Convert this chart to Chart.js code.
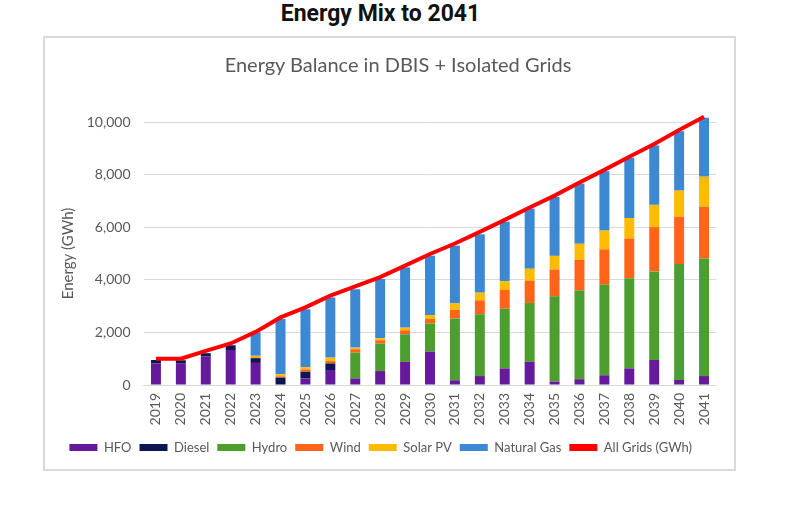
<!DOCTYPE html>
<html>
<head>
<meta charset="utf-8">
<script src="https://cdn.jsdelivr.net/npm/chart.js@4.4.1/dist/chart.umd.min.js"></script>
<style>
  html, body { margin: 0; padding: 0; background: #ffffff; }
  #pageTitle { position: absolute; left: 0; top: 0; width: 761px; height: 24px; line-height: 24px;
    text-align: center; font: 700 23px Roboto, "Liberation Sans", sans-serif; color: #111; }
  #frame { position: absolute; left: 43px; top: 36px; width: 693px; height: 435px;
    box-sizing: border-box; border: 2px solid #d9d9d9; }
  #c { position: absolute; left: 0; top: 0; }
  #chartTitle { position: absolute; left: 0; top: 52px; width: 796px; height: 24px; line-height: 24px;
    text-align: center; font: 400 20px Lato, "Open Sans", sans-serif; color: #595959; }
</style>
</head>
<body>
<div id="pageTitle">Energy Mix to 2041</div>
<div id="frame"><canvas id="c" width="689" height="431"></canvas></div>
<div id="chartTitle">Energy Balance in DBIS + Isolated Grids</div>
<script>
const years = ["2019","2020","2021","2022","2023","2024","2025","2026","2027","2028","2029","2030","2031","2032","2033","2034","2035","2036","2037","2038","2039","2040","2041"];
const hfo        = [820, 810, 1080, 1330, 840,   0,  250,  570,  250,  530,  880, 1270,  180,  340,  630,  880,  130,  220,  370,  630,  950,  190,  340];
const diesel     = [130, 130,  130,  180, 180, 280,  250,  250,    0,    0,    0,    0,    0,    0,    0,    0,    0,    0,    0,    0,    0,    0,    0];
const hydro      = [  0,   0,    0,    0,   0,   0,    0,    0,  980, 1040, 1050, 1070, 2350, 2350, 2270, 2240, 3240, 3370, 3440, 3430, 3370, 4410, 4470];
const wind       = [  0,   0,    0,    0,  30,  50,   90,   90,  130,  130,  150,  170,  330,  530,  710,  850, 1020, 1170, 1350, 1510, 1680, 1800, 1970];
const solarPV    = [  0,   0,    0,    0,  60,  80,   90,  130,   60,   80,  100,  150,  240,  290,  340,  450,  520,  610,  710,  780,  850,  990, 1140];
const naturalGas = [  0,   0,    0,    0, 890,2100, 2200, 2290, 2220, 2250, 2290, 2260, 2200, 2220, 2260, 2290, 2240, 2290, 2260, 2290, 2260, 2260, 2240];
const allGrids   = [1000, 1000, 1300, 1580, 2020, 2570, 2950, 3400, 3750, 4100, 4540, 4980, 5380, 5820, 6280, 6750, 7200, 7700, 8180, 8680, 9160, 9700, 10200];
const yTicks = [0, 2000, 4000, 6000, 8000, 10000];

const FONT = 'Lato, "Open Sans", sans-serif';
const GREY = '#595959';

function barSet(label, data, color) {
  return { type: 'bar', label, data, backgroundColor: color, borderWidth: 0,
           barPercentage: 0.4, categoryPercentage: 1.0, order: 1, clip: false };
}

new Chart(document.getElementById('c'), {
  data: {
    labels: years,
    datasets: [
      barSet('HFO', hfo, '#651a9b'),
      barSet('Diesel', diesel, '#0c1650'),
      barSet('Hydro', hydro, '#4c9e2e'),
      barSet('Wind', wind, '#ff6418'),
      barSet('Solar PV', solarPV, '#ffbb00'),
      barSet('Natural Gas', naturalGas, '#3c88d2'),
      { type: 'line', label: 'All Grids (GWh)', data: allGrids, borderColor: '#ff0000',
        backgroundColor: '#ff0000', borderWidth: 4, pointRadius: 0, tension: 0,
        clip: false, order: 0 }
    ]
  },
  options: {
    responsive: false,
    devicePixelRatio: 1,
    animation: false,
    layout: { padding: { left: 0, right: 17.5, top: 84, bottom: 5 } },
    plugins: {
      title: { display: false },
      legend: { position: 'bottom',
        labels: { color: GREY, font: { family: FONT, size: 13 }, boxWidth: 28, boxHeight: 7, padding: 8,
                  sort: (a, b) => a.datasetIndex - b.datasetIndex,
                  generateLabels: (chart) => {
                    const items = Chart.defaults.plugins.legend.labels.generateLabels(chart);
                    items.forEach(it => { if (it.text === 'All Grids (GWh)') { it.lineWidth = 0; } });
                    return items;
                  } } },
      tooltip: { enabled: false }
    },
    scales: {
      x: {
        stacked: true,
        grid: { display: false, drawTicks: false },
        border: { display: true, color: '#d9d9d9', width: 1 },
        ticks: { color: GREY, font: { family: FONT, size: 14 }, minRotation: 90, maxRotation: 90, padding: 8, autoSkip: false },
        afterFit: (s) => { s.height = 48; }
      },
      y: {
        stacked: true,
        min: 0, max: 10000,
        afterBuildTicks: (s) => { s.ticks = yTicks.map(v => ({ value: v })); },
        grid: { color: '#d9d9d9', lineWidth: 1, drawTicks: false },
        border: { display: false },
        ticks: { color: GREY, font: { family: FONT, size: 14 }, padding: 13,
                 callback: (v) => Number(v).toLocaleString('en-US') },
        title: { display: true, text: 'Energy (GWh)', color: GREY, font: { family: FONT, size: 15 },
                 padding: { top: 14, bottom: 0 } },
        afterFit: (s) => { s.width = 98.5; }
      }
    }
  }
});
</script>
</body>
</html>
